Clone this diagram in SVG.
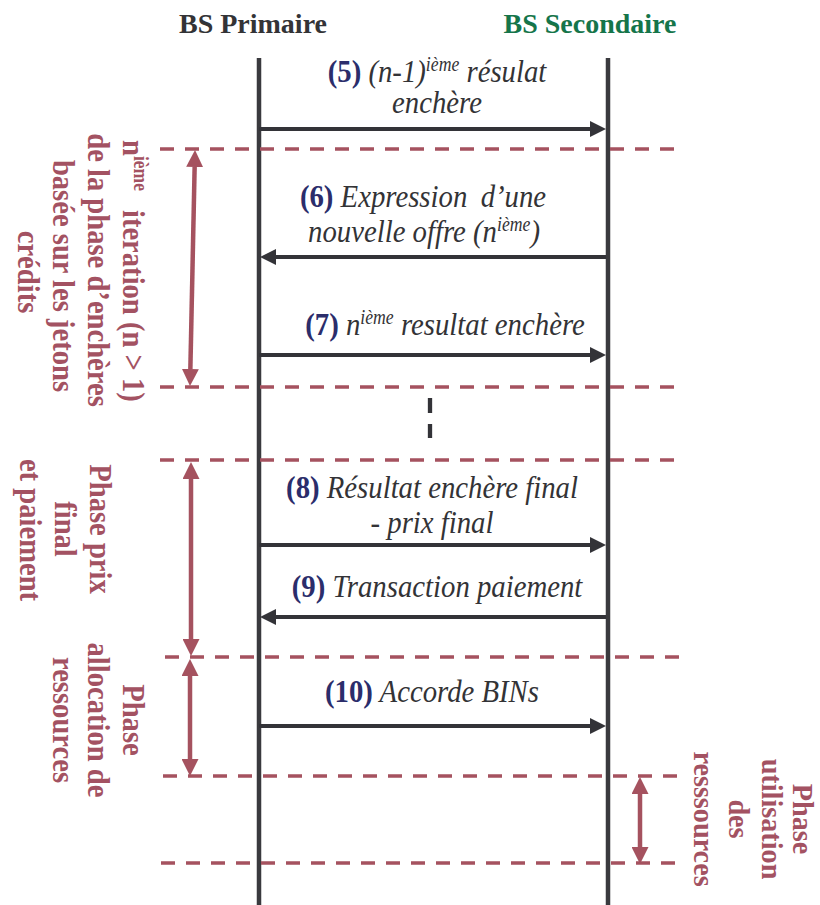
<svg xmlns="http://www.w3.org/2000/svg" width="820" height="905" viewBox="0 0 820 905">
<style>
.hdr{font-family:"Liberation Serif","Times New Roman",serif;font-size:28px;font-weight:bold}
.lbl{font-family:"Liberation Serif","Times New Roman",serif;font-size:32.5px;font-style:italic;fill:#333336}
.num{font-weight:bold;font-style:normal;fill:#2b2d6b}
.sup{font-size:20px}
.vt{font-family:"Liberation Serif","Times New Roman",serif;font-size:32.5px;font-weight:bold;fill:#a35262}
.vt2{font-family:"Liberation Serif","Times New Roman",serif;font-size:30px;font-weight:bold;fill:#a35262}
.vsup{font-size:20px}
.life{stroke:#3a3a3e;stroke-width:4.5;fill:none}
.msg{stroke:#333338;stroke-width:4;fill:none}
.sep{stroke:#a5525f;stroke-width:3.5;stroke-dasharray:14 11;fill:none}
.span{stroke:#a5525f;stroke-width:4.5;fill:none}
</style>
<defs>
<marker id="ah" viewBox="0 0 16 16" refX="0" refY="8" markerWidth="16" markerHeight="16" markerUnits="userSpaceOnUse" orient="auto"><path d="M0,0 L16,8 L0,16 z" fill="#333338"/></marker>
<marker id="mh" viewBox="0 0 17 17" refX="0" refY="8.5" markerWidth="17" markerHeight="17" markerUnits="userSpaceOnUse" orient="auto-start-reverse"><path d="M0,0 L17,8.5 L0,17 z" fill="#a5525f"/></marker>
</defs>
<rect width="820" height="905" fill="#ffffff"/>

<g id="bs-primaire">
<text class="hdr" x="253" y="33" text-anchor="middle" fill="#333336">BS Primaire</text>
<line class="life" x1="259" y1="58" x2="259" y2="905"/>
</g>
<g id="bs-secondaire">
<text class="hdr" x="590" y="33" text-anchor="middle" fill="#15754a">BS Secondaire</text>
<line class="life" x1="608" y1="58" x2="608" y2="905"/>
</g>

<g id="separators">
<line class="sep" x1="160" y1="149" x2="685" y2="149"/>
<line class="sep" x1="160" y1="387" x2="685" y2="387"/>
<line class="sep" x1="160" y1="460" x2="685" y2="460"/>
<line class="sep" x1="165" y1="657" x2="685" y2="657"/>
<line class="sep" x1="163" y1="776" x2="685" y2="776"/>
<line class="sep" x1="161" y1="863" x2="685" y2="863"/>
<line x1="430" y1="398" x2="430" y2="438" stroke="#333338" stroke-width="4.3" stroke-dasharray="15 11"/>
</g>

<g id="connectors">
<line class="msg" x1="259" y1="129" x2="590" y2="129" marker-end="url(#ah)"/>
<line class="msg" x1="606" y1="257" x2="276" y2="257" marker-end="url(#ah)"/>
<line class="msg" x1="259" y1="355" x2="590" y2="355" marker-end="url(#ah)"/>
<line class="msg" x1="259" y1="545" x2="590" y2="545" marker-end="url(#ah)"/>
<line class="msg" x1="606" y1="617" x2="276" y2="617" marker-end="url(#ah)"/>
<line class="msg" x1="259" y1="726" x2="590" y2="726" marker-end="url(#ah)"/>
<line class="span" x1="194.64" y1="167" x2="190.36" y2="369" marker-start="url(#mh)" marker-end="url(#mh)"/>
<line class="span" x1="191" y1="479" x2="191" y2="639" marker-start="url(#mh)" marker-end="url(#mh)"/>
<line class="span" x1="190" y1="676" x2="190" y2="759" marker-start="url(#mh)" marker-end="url(#mh)"/>
<line class="span" x1="640" y1="794" x2="640" y2="847" marker-start="url(#mh)" marker-end="url(#mh)"/>
</g>

<g id="msg5">
<text class="lbl" transform="translate(437,82) scale(0.885,1)" text-anchor="middle"><tspan class="num">(5)</tspan> (n-1)<tspan class="sup" dy="-11">ième</tspan><tspan dy="11"> résulat</tspan></text>
<text class="lbl" transform="translate(437,113) scale(0.885,1)" text-anchor="middle">enchère</text>
</g>
<g id="msg6">
<text class="lbl" transform="translate(423,207) scale(0.885,1)" text-anchor="middle"><tspan class="num">(6)</tspan> Expression <tspan dx="7">d’une</tspan></text>
<text class="lbl" transform="translate(424,242) scale(0.885,1)" text-anchor="middle">nouvelle offre (n<tspan class="sup" dy="-11">ième</tspan><tspan dy="11">)</tspan></text>
</g>
<g id="msg7">
<text class="lbl" transform="translate(445,335) scale(0.885,1)" text-anchor="middle"><tspan class="num">(7)</tspan> n<tspan class="sup" dy="-11">ième</tspan><tspan dy="11"> resultat enchère</tspan></text>
</g>
<g id="msg8">
<text class="lbl" transform="translate(432,498) scale(0.885,1)" text-anchor="middle"><tspan class="num">(8)</tspan> Résultat enchère final</text>
<text class="lbl" transform="translate(432,533) scale(0.885,1)" text-anchor="middle">- prix final</text>
</g>
<g id="msg9">
<text class="lbl" transform="translate(437,597) scale(0.885,1)" text-anchor="middle"><tspan class="num">(9)</tspan> Transaction paiement</text>
</g>
<g id="msg10">
<text class="lbl" transform="translate(432,702) scale(0.885,1)" text-anchor="middle"><tspan class="num">(10)</tspan> Accorde BINs</text>
</g>

<g id="phase-iteration">
<text class="vt" transform="translate(123,140) rotate(90) scale(0.88,1)">n<tspan class="vsup" dy="-11">ième</tspan><tspan x="79.5" dy="11">iteration (n &gt; 1)</tspan></text>
<text class="vt" transform="translate(88,270) rotate(90) scale(0.88,1)" text-anchor="middle">de la phase d’enchères</text>
<text class="vt" transform="translate(53,276) rotate(90) scale(0.88,1)" text-anchor="middle">basée sur les jetons</text>
<text class="vt" transform="translate(18,272) rotate(90) scale(0.88,1)" text-anchor="middle">crédits</text>
</g>
<g id="phase-prix">
<text class="vt" transform="translate(90,529) rotate(90) scale(0.88,1)" text-anchor="middle">Phase prix</text>
<text class="vt" transform="translate(55,529) rotate(90) scale(0.88,1)" text-anchor="middle">final</text>
<text class="vt" transform="translate(20,530) rotate(90) scale(0.88,1)" text-anchor="middle">et paiement</text>
</g>
<g id="phase-allocation">
<text class="vt" transform="translate(123,720) rotate(90) scale(0.88,1)" text-anchor="middle">Phase</text>
<text class="vt" transform="translate(88,720) rotate(90) scale(0.88,1)" text-anchor="middle">allocation de</text>
<text class="vt" transform="translate(53,720) rotate(90) scale(0.88,1)" text-anchor="middle">ressources</text>
</g>
<g id="phase-utilisation">
<text class="vt2" transform="translate(793,819) rotate(90) scale(0.94,1)" text-anchor="middle">Phase</text>
<text class="vt2" transform="translate(762,819) rotate(90) scale(0.94,1)" text-anchor="middle">utilisation</text>
<text class="vt2" transform="translate(729,819) rotate(90) scale(0.94,1)" text-anchor="middle">des</text>
<text class="vt2" transform="translate(694,819) rotate(90) scale(0.94,1)" text-anchor="middle">resssources</text>
</g>
</svg>
